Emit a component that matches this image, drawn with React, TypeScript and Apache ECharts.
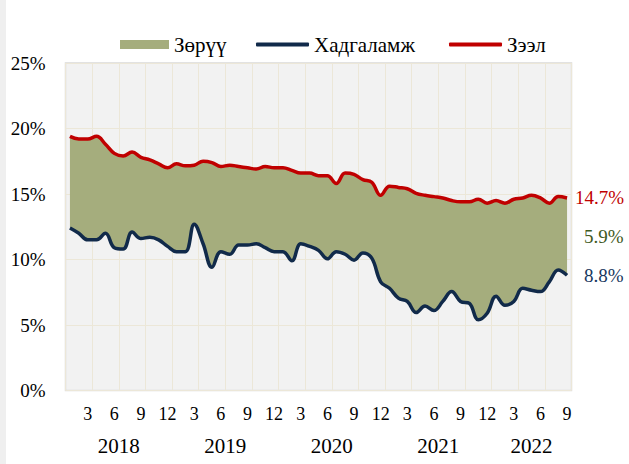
import React, { useEffect, useRef } from "react";
import * as echarts from "echarts";

const categories = [
  "2018-1","2018-2","2018-3","2018-4","2018-5","2018-6","2018-7","2018-8","2018-9","2018-10","2018-11","2018-12",
  "2019-1","2019-2","2019-3","2019-4","2019-5","2019-6","2019-7","2019-8","2019-9","2019-10","2019-11","2019-12",
  "2020-1","2020-2","2020-3","2020-4","2020-5","2020-6","2020-7","2020-8","2020-9","2020-10","2020-11","2020-12",
  "2021-1","2021-2","2021-3","2021-4","2021-5","2021-6","2021-7","2021-8","2021-9","2021-10","2021-11","2021-12",
  "2022-1","2022-2","2022-3","2022-4","2022-5","2022-6","2022-7","2022-8","2022-9",
];

// Зээл (loan rate, %)
const loans = [
  19.4, 19.2, 19.2, 19.4, 18.8, 18.1, 17.9, 18.2, 17.8, 17.6, 17.3, 17.0,
  17.3, 17.15, 17.2, 17.5, 17.4, 17.1, 17.2, 17.1, 17.0, 16.9, 17.1, 17.0,
  17.0, 16.8, 16.6, 16.6, 16.4, 16.4, 15.8, 16.6, 16.5, 16.1, 15.9, 14.9,
  15.6, 15.5, 15.4, 15.05, 14.9, 14.8, 14.7, 14.5, 14.4, 14.4, 14.6, 14.3,
  14.5, 14.3, 14.6, 14.7, 14.9, 14.7, 14.3, 14.8, 14.7,
];

// Хадгаламж (deposit rate, %)
const deposits = [
  12.4, 12.0, 11.5, 11.5, 12.0, 10.9, 10.8, 12.1, 11.6, 11.7, 11.5, 11.0,
  10.6, 10.6, 12.7, 11.2, 9.4, 10.6, 10.4, 11.1, 11.1, 11.2, 10.9, 10.6,
  10.6, 9.9, 11.2, 11.0, 10.7, 10.05, 10.6, 10.4, 9.95, 10.5, 10.1, 8.3,
  7.8, 7.05, 6.8, 5.95, 6.45, 6.1, 6.8, 7.55, 6.8, 6.65, 5.4, 5.9,
  7.2, 6.5, 6.8, 7.8, 7.65, 7.55, 8.3, 9.2, 8.8,
];

const yearLabels = ["2018", "2019", "2020", "2021", "2022"];
const monthTickLabels = ["3", "6", "9", "12"];

const FONT = '"Liberation Serif", "Times New Roman", serif';

export default function App() {
  const ref = useRef<HTMLDivElement>(null);

  useEffect(() => {
    if (!ref.current) return;
    const chart = echarts.init(ref.current, undefined, { renderer: "svg" });

    const spread = loans.map((l, i) => +(l - deposits[i]).toFixed(2));
    const last = categories.length - 1;
    const lastSpread = +(loans[last] - deposits[last]).toFixed(1);
    const mid = (loans[last] + deposits[last]) / 2;

    // Half-month slots for centring year labels under each year's span
    const yearYears = categories.map((c) => c.split("-")[0]);
    const slots: string[] = new Array(categories.length * 2 + 1).fill("");
    yearLabels.forEach((y) => {
      const first = yearYears.indexOf(y);
      const lastIdx = yearYears.lastIndexOf(y);
      const center = first + lastIdx + 1; // in half-band units
      slots[center] = y;
    });

    const legendText = { fontFamily: FONT, fontSize: 21, color: "#000" };

    chart.setOption({
      animation: false,
      backgroundColor: "#ffffff",
      graphic: [
        { type: "rect", left: 0, top: 0, shape: { width: 6, height: 464 }, style: { fill: "#efefef" }, z: -10 },
      ],
      legend: [
        {
          data: [{ name: "Зөрүү", icon: "rect" }],
          left: 115,
          top: 29,
          itemWidth: 49,
          itemHeight: 9,
          itemGap: 0,
          textStyle: legendText,
        },
        {
          data: [{ name: "Хадгаламж", icon: "roundRect" }],
          left: 251,
          top: 29,
          itemWidth: 53,
          itemHeight: 4,
          textStyle: legendText,
        },
        {
          data: [{ name: "Зээл", icon: "roundRect" }],
          left: 444,
          top: 29,
          itemWidth: 53,
          itemHeight: 4,
          textStyle: legendText,
        },
      ],
      grid: {
        left: 65.5,
        right: 57.5,
        top: 63,
        bottom: 73.5,
        show: true,
        backgroundColor: "#f2f2f2",
        borderColor: "#d9d9d9",
        borderWidth: 1.5,
      },
      xAxis: [
        {
          type: "category",
          data: categories,
          boundaryGap: true,
          axisLine: { show: false },
          axisTick: { show: false },
          splitLine: {
            show: true,
            interval: (i: number) => i % 3 === 0,
            lineStyle: { color: "#ece7d8", width: 1 },
          },
          axisLabel: {
            interval: (i: number) => monthTickLabels.includes(categories[i].split("-")[1]),
            formatter: (v: string) => v.split("-")[1],
            fontFamily: FONT,
            fontSize: 18,
            color: "#000",
            margin: 14,
          },
        },
        {
          type: "category",
          data: slots,
          boundaryGap: false,
          position: "bottom",
          axisLine: { show: false },
          axisTick: { show: false },
          splitLine: { show: false },
          axisLabel: {
            interval: 0,
            fontFamily: FONT,
            fontSize: 21,
            color: "#000",
            margin: 45,
          },
        },
      ],
      yAxis: {
        type: "value",
        min: 0,
        max: 25,
        interval: 5,
        axisLine: { show: false },
        axisTick: { show: false },
        splitLine: { lineStyle: { color: "#ece7d8", width: 1 } },
        axisLabel: {
          formatter: "{value}%",
          fontFamily: FONT,
          fontSize: 19,
          color: "#000",
          margin: 20,
        },
      },
      series: [
        {
          name: "Хадгаламж",
          type: "line",
          data: deposits,
          stack: "band",
          smooth: 0.4,
          symbol: "none",
          z: 4,
          lineStyle: { color: "#112a4a", width: 3.5 },
          itemStyle: { color: "#112a4a" },
          endLabel: {
            show: true,
            formatter: (p: any) => `${Number(p.value).toFixed(1)}%`,
            distance: 17,
            fontFamily: FONT,
            fontSize: 19,
            color: "#17375e",
          },
        },
        {
          name: "Зөрүү",
          type: "line",
          data: spread,
          stack: "band",
          smooth: 0.4,
          symbol: "none",
          z: 2,
          lineStyle: { width: 0 },
          itemStyle: { color: "#a5ad7d" },
          areaStyle: { color: "#a5ad7d", opacity: 1 },
        },
        {
          name: "Зээл",
          type: "line",
          data: loans,
          smooth: 0.4,
          symbol: "none",
          z: 4,
          lineStyle: { color: "#c00000", width: 3.5 },
          itemStyle: { color: "#c00000" },
          endLabel: {
            show: true,
            formatter: (p: any) => `${Number(p.value).toFixed(1)}%`,
            distance: 8,
            fontFamily: FONT,
            fontSize: 19,
            color: "#c00000",
          },
        },
        {
          name: "spreadLabel",
          type: "scatter",
          data: [[categories[last], mid]],
          symbolSize: 0,
          z: 5,
          itemStyle: { color: "#3f5a1e", opacity: 1 },
          label: {
            show: true,
            position: "right",
            distance: 17,
            formatter: () => `${lastSpread.toFixed(1)}%`,
            fontFamily: FONT,
            fontSize: 19,
            color: "#3f5a1e",
            opacity: 1,
          },
        },
      ],
    });

    return () => chart.dispose();
  }, []);

  return (
    <div
      ref={ref}
      style={{ position: "fixed", left: 0, top: 0, width: 629, height: 464, background: "#fff" }}
    />
  );
}
